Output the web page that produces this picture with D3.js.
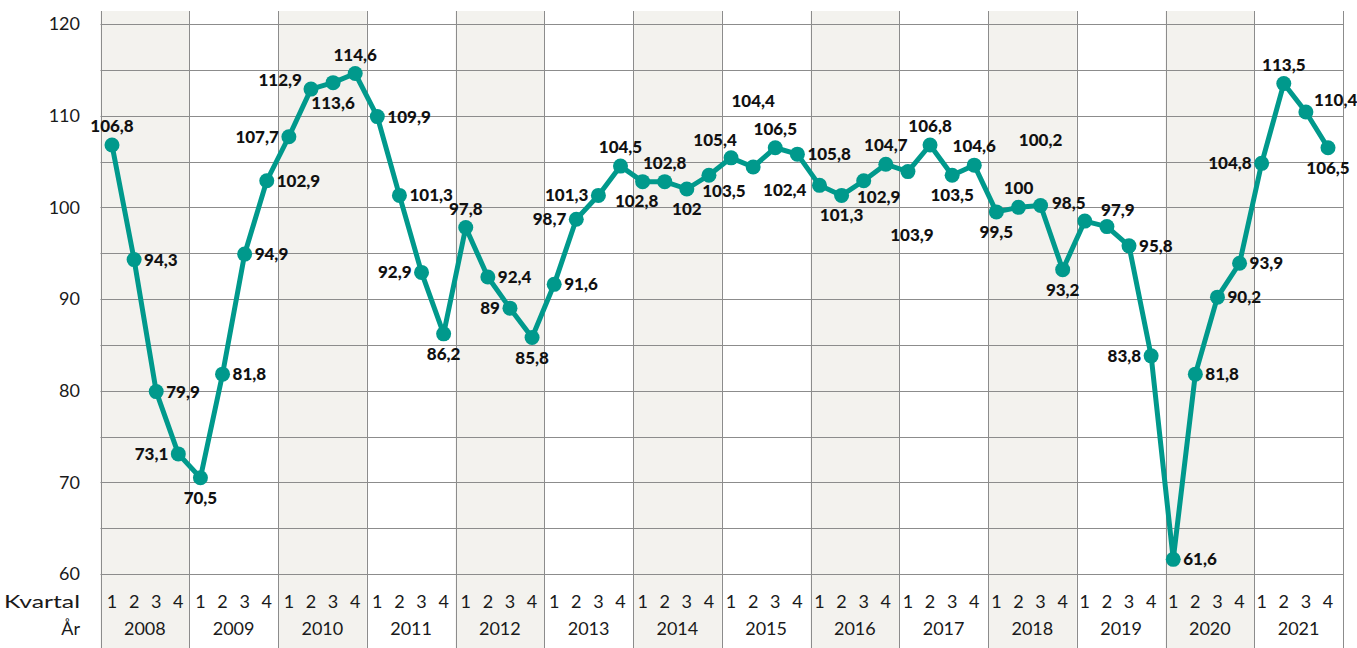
<!DOCTYPE html>
<html lang="sv">
  <head>
    <meta charset="UTF-8" />
    <title>Kvartal</title>
    <style>
      body {
        margin: 0;
        padding: 0;
        background: #fff;
        font-family: Lato, "DejaVu Sans", sans-serif;
      }
      .tick-label {
        font-size: 18px;
        fill: #1a1a1a;
      }
      .value-label {
        font-size: 17px;
        font-weight: 900;
        fill: #111;
      }
    </style>
  </head>
  <body>
    <svg id="chart"></svg>

    <script src="https://d3js.org/d3.v7.min.js"></script>
    <script>
      const years = [2008, 2009, 2010, 2011, 2012, 2013, 2014, 2015, 2016, 2017, 2018, 2019, 2020, 2021];
      const quarters = [1, 2, 3, 4];
      const yTicks = [60, 70, 80, 90, 100, 110, 120];

      // index values, one per quarter (2008 Q1 .. 2021 Q4)
      const values = [
        106.8, 94.3, 79.9, 73.1,
        70.5, 81.8, 94.9, 102.9,
        107.7, 112.9, 113.6, 114.6,
        109.9, 101.3, 92.9, 86.2,
        97.8, 92.4, 89, 85.8,
        91.6, 98.7, 101.3, 104.5,
        102.8, 102.8, 102, 103.5,
        105.4, 104.4, 106.5, 105.8,
        102.4, 101.3, 102.9, 104.7,
        103.9, 106.8, 103.5, 104.6,
        99.5, 100, 100.2, 93.2,
        98.5, 97.9, 95.8, 83.8,
        61.6, 81.8, 90.2, 93.9,
        104.8, 113.5, 110.4, 106.5
      ];

      // where each value label sits relative to its dot
      const labelPos = [
        "t", "r", "r", "l",
        "b", "r", "r", "r",
        "l", "lu", "b", "t",
        "r", "r", "l", "b",
        "t", "r", "l", "b",
        "r", "l", "l", "t",
        "bl", "t", "b", "br",
        "tl", "tt", "t", "r",
        "ld", "b", "br", "t",
        "bb", "t", "b", "t",
        "b", "t", "tt", "b",
        "tl", "tr", "r", "l",
        "r", "r", "r", "r",
        "l", "t", "ru", "b"
      ];

      const placement = {
        t: { dx: 0, dy: -13, anchor: "middle" },
        tt: { dx: 0, dy: -60, anchor: "middle" },
        tl: { dx: -16, dy: -12, anchor: "middle" },
        tr: { dx: 11, dy: -11, anchor: "middle" },
        b: { dx: 0, dy: 26, anchor: "middle" },
        bb: { dx: 4, dy: 69, anchor: "middle" },
        bl: { dx: -6, dy: 25, anchor: "middle" },
        br: { dx: 15, dy: 22, anchor: "middle" },
        r: { dx: 10, dy: 6, anchor: "start" },
        ru: { dx: 8, dy: -6, anchor: "start" },
        l: { dx: -10, dy: 6, anchor: "end" },
        lu: { dx: -9, dy: -3, anchor: "end" },
        ld: { dx: -13, dy: 11, anchor: "end" }
      };

      const width = 1357;
      const height = 648;
      const plotLeft = 100.5;
      const plotRight = 1343;
      const plotTop = 24;
      const plotBottom = 574;

      const svg = d3.select("#chart").attr("width", width).attr("height", height);

      const data = [];
      years.forEach((yr, i) => {
        quarters.forEach((q, j) => {
          const k = i * 4 + j;
          data.push({ key: yr + "-" + q, year: yr, q: q, value: values[k], pos: labelPos[k] });
        });
      });

      const xYear = d3.scaleBand().domain(years).range([plotLeft, plotRight]);
      const x = d3
        .scalePoint()
        .domain(data.map((d) => d.key))
        .range([112, 1328]);
      const y = d3.scaleLinear().domain([60, 120]).range([plotBottom, plotTop]);

      const fmt = d3
        .formatLocale({ decimal: ",", thousands: " ", grouping: [3], currency: ["", ""] })
        .format(".1~f");

      // shaded year bands
      svg
        .selectAll(".band")
        .data(years.filter((d, i) => i % 2 === 0))
        .enter()
        .append("rect")
        .attr("x", (d) => xYear(d))
        .attr("y", 11)
        .attr("width", xYear.bandwidth())
        .attr("height", height - 11)
        .attr("fill", "#f3f2ee");

      // horizontal grid every 5
      svg
        .selectAll(".hgrid")
        .data(d3.range(60, 121, 5))
        .enter()
        .append("line")
        .attr("x1", plotLeft)
        .attr("x2", plotRight)
        .attr("y1", (d) => Math.round(y(d)) + 0.5)
        .attr("y2", (d) => Math.round(y(d)) + 0.5)
        .attr("stroke", "#8c8c8c")
        .attr("stroke-width", 1);

      // vertical year lines
      svg
        .selectAll(".vgrid")
        .data(years.map((d) => xYear(d)).concat([plotRight]))
        .enter()
        .append("line")
        .attr("x1", (d) => Math.round(d) + 0.5)
        .attr("x2", (d) => Math.round(d) + 0.5)
        .attr("y1", 11)
        .attr("y2", height)
        .attr("stroke", "#8c8c8c")
        .attr("stroke-width", 1);

      // y tick labels
      svg
        .selectAll(".ytick")
        .data(yTicks)
        .enter()
        .append("text")
        .attr("class", "tick-label")
        .attr("x", 80)
        .attr("y", (d) => y(d))
        .attr("dy", "0.36em")
        .attr("text-anchor", "end")
        .text((d) => d);

      // axis row titles
      svg
        .append("text")
        .attr("class", "tick-label")
        .attr("x", 80)
        .attr("y", 608)
        .attr("text-anchor", "end")
        .attr("textLength", 76)
        .attr("lengthAdjust", "spacingAndGlyphs")
        .text("Kvartal");
      svg
        .append("text")
        .attr("class", "tick-label")
        .attr("x", 80)
        .attr("y", 635)
        .attr("text-anchor", "end")
        .text("År");

      // quarter numbers
      svg
        .selectAll(".qlabel")
        .data(data)
        .enter()
        .append("text")
        .attr("class", "tick-label")
        .attr("x", (d) => x(d.key))
        .attr("y", 608)
        .attr("text-anchor", "middle")
        .text((d) => d.q);

      // year names
      svg
        .selectAll(".ylabel")
        .data(years)
        .enter()
        .append("text")
        .attr("class", "tick-label")
        .attr("x", (d) => xYear(d) + xYear.bandwidth() / 2)
        .attr("y", 635)
        .attr("text-anchor", "middle")
        .text((d) => d);

      // the line
      const line = d3
        .line()
        .x((d) => x(d.key))
        .y((d) => y(d.value));

      svg
        .append("path")
        .datum(data)
        .attr("d", line)
        .attr("fill", "none")
        .attr("stroke", "#00998c")
        .attr("stroke-width", 5)
        .attr("stroke-linejoin", "round");

      svg
        .selectAll(".dot")
        .data(data)
        .enter()
        .append("circle")
        .attr("cx", (d) => x(d.key))
        .attr("cy", (d) => y(d.value))
        .attr("r", 7.5)
        .attr("fill", "#00998c");

      // value labels
      svg
        .selectAll(".value-label")
        .data(data)
        .enter()
        .append("text")
        .attr("class", "value-label")
        .attr("x", (d) => x(d.key) + placement[d.pos].dx)
        .attr("y", (d) => y(d.value) + placement[d.pos].dy)
        .attr("text-anchor", (d) => placement[d.pos].anchor)
        .text((d) => fmt(d.value));
    </script>
  </body>
</html>
